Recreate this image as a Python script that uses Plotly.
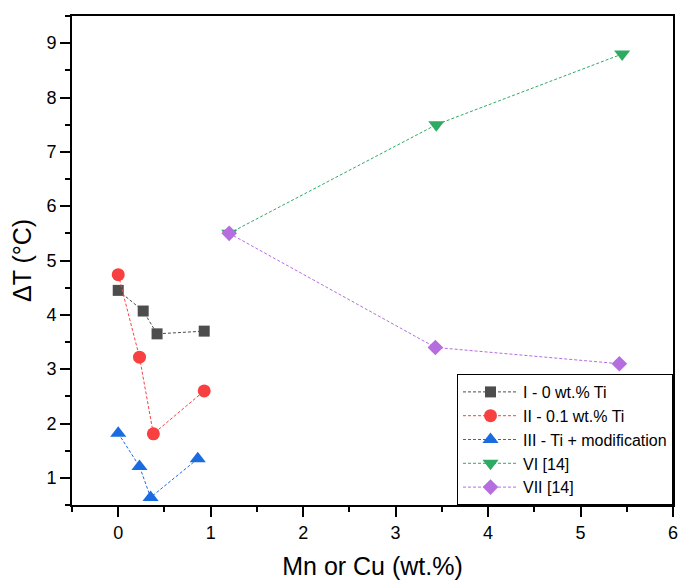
import plotly.graph_objects as go

names = ["I - 0 wt.% Ti", "II - 0.1 wt.% Ti", "III - Ti + modification", "VI [14]", "VII [14]"]
x_I = [0.0, 0.27, 0.42, 0.93]
y_I = [4.45, 4.07, 3.65, 3.70]
x_II = [0.0, 0.23, 0.38, 0.93]
y_II = [4.74, 3.22, 1.81, 2.60]
x_III = [0.0, 0.23, 0.35, 0.86]
y_III = [1.82, 1.21, 0.64, 1.35]
x_VI = [1.2, 3.44, 5.45]
y_VI = [5.5, 7.5, 8.8]
x_VII = [1.2, 3.43, 5.42]
y_VII = [5.5, 3.4, 3.1]

colors = ["#4d4d4d", "#f94040", "#1a6be0", "#2eaa63", "#b56de0"]
symbols = ["square", "circle", "triangle-up", "triangle-down", "diamond"]
sizes = [11, 13, 14, 14, 12]
xs = [x_I, x_II, x_III, x_VI, x_VII]
ys = [y_I, y_II, y_III, y_VI, y_VII]

fig = go.Figure()
for i in range(5):
    fig.add_trace(go.Scatter(
        x=xs[i], y=ys[i], name=names[i], mode="lines+markers",
        line=dict(color=colors[i], width=1, dash="3px,2px"),
        marker=dict(symbol=symbols[i], size=sizes[i], color=colors[i], line=dict(width=0)),
        opacity=1,
    ))

axis_common = dict(
    showline=True, linecolor="black", linewidth=2, mirror=True,
    ticks="outside", ticklen=10, tickwidth=1.5, tickcolor="black",
    showgrid=False, zeroline=False,
    tickfont=dict(family="Liberation Sans, Arial", size=18, color="black"),
)

fig.update_layout(
    width=683, height=581,
    margin=dict(l=72, r=5, t=16, b=76),
    plot_bgcolor="white", paper_bgcolor="white",
    font=dict(family="Liberation Sans, Arial", color="black"),
    xaxis=dict(range=[-0.5, 6], dtick=1, tick0=0,
               minor=dict(ticks="outside", ticklen=5, dtick=0.5, tick0=0.5, tickcolor="black", tickwidth=1.5),
               title=dict(text="Mn or Cu (wt.%)", font=dict(size=25), standoff=16),
               **axis_common),
    yaxis=dict(range=[0.5, 9.5], dtick=1, tick0=0,
               minor=dict(ticks="outside", ticklen=5, dtick=0.5, tick0=0.5, tickcolor="black", tickwidth=1.5),
               title=dict(text="ΔT (°C)", font=dict(size=25), standoff=8),
               **axis_common),
    legend=dict(x=1, y=0, xanchor="right", yanchor="bottom",
                bordercolor="black", borderwidth=1, bgcolor="white",
                font=dict(size=16), tracegroupgap=0, itemwidth=55),
    showlegend=True,
)

fig.write_html("out.html")
